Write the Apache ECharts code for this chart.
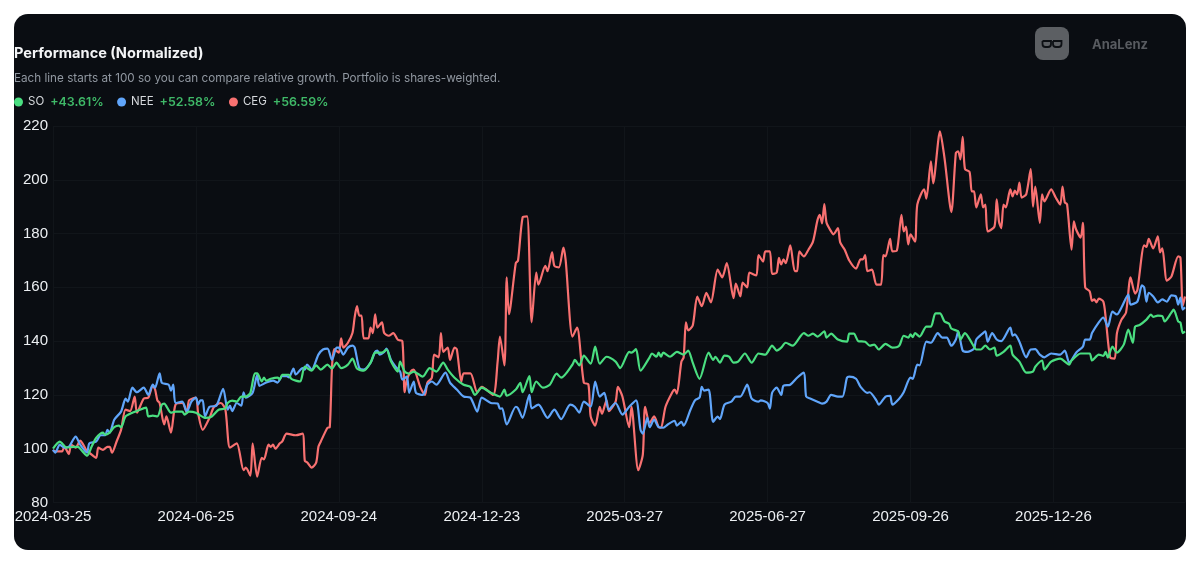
<!DOCTYPE html>
<html>
<head>
<meta charset="utf-8">
<style>html,body{margin:0;padding:0;background:#fff}#c{width:1200px;height:564px}</style>
<script src="https://cdn.jsdelivr.net/npm/echarts@6/dist/echarts.min.js"></script>
</head>
<body>
<div id="c"></div>
<script>
const tickLabels = ['2024-03-25','2024-06-25','2024-09-24','2024-12-23','2025-03-27','2025-06-27','2025-09-26','2025-12-26'];
const names = ['SO','NEE','CEG'];
const returnsText = ['+43.61%','+52.58%','+56.59%'];
const colors = ['#4ade80','#60a5fa','#f87171'];

// [trading day since start, normalized value]
const so = [[0,100],[3,102.6],[4,102],[6,100.4],[9,100.7],[11,100.7],[13,99],[15,97.4],[17,100.7],[19,104],[22,106],[23,105.2],[25,106],[27,108],[29,108.6],[30,108],[32,112],[35,113.4],[37,114],[41,115.3],[42,112],[44,112.3],[46,112],[48,116.4],[49,116.8],[52,113.4],[54,113.8],[57,113.8],[58,112.7],[60,113.8],[63,113.4],[67,111.5],[70,112],[73,114.5],[76,115],[77,117],[79,117.9],[81,117.5],[83,119.4],[85,119.4],[87,120.8],[89,128],[90,128],[92,125],[93,126.4],[94,125.3],[96,126],[99,126.4],[100,125.7],[101,127.5],[104,127.5],[105,126],[107,125.3],[109,125],[111,130.5],[114,129],[116,131],[118,129.4],[121,131.3],[123,129.8],[125,132],[127,130],[130,131.3],[132,133.5],[134,129.8],[137,129],[140,132],[142,135.7],[145,135.7],[147,136.9],[149,132.4],[152,128.7],[153,132.4],[155,128.7],[157,127.9],[159,128.7],[163,126.8],[166,130],[169,128.7],[172,132],[174,129.4],[177,126.4],[181,123.8],[184,123],[186,120],[189,122.7],[193,120.8],[197,119.4],[199,122],[200,119.7],[204,122],[206,124.5],[207,121],[210,127],[211,121],[213,125],[216,122.7],[219,123.8],[222,127.9],[224,126.4],[229,131.3],[230,133],[232,131],[234,134.6],[237,131.6],[239,138],[241,131.6],[244,134.2],[248,132.4],[250,130],[254,136],[255,135.7],[257,137],[259,129],[263,134],[264,135.4],[266,134.2],[267,135.7],[268,134.2],[269,135.7],[272,134.2],[275,136],[278,135],[280,136.5],[282,132],[285,126],[289,135.7],[291,133],[292,134.2],[294,132],[296,134.6],[298,134.2],[300,132],[302,132.4],[305,135.4],[308,132],[311,135.4],[314,135],[317,138.3],[319,136.5],[321,137.6],[323,139.4],[326,138.3],[331,143],[333,142],[335,142.8],[337,141.7],[340,143.6],[341,141.3],[343,142.8],[346,140.6],[350,139.8],[351,142.8],[353,142.8],[355,140],[358,139.8],[360,138.3],[362,138.7],[364,136.9],[367,139],[370,137.6],[373,138.3],[375,142],[377,141.3],[378,142.5],[379,141.5],[380,143],[382,141.7],[385,145.4],[387,145.4],[389,150.3],[391,150.3],[393,147.3],[395,146.5],[396,144.7],[399,143.6],[400,140.6],[402,143],[405,139.4],[407,136.9],[409,136.9],[411,138.3],[413,136.9],[415,137.6],[416,134.6],[419,136],[422,138.3],[423,135],[426,132.4],[429,128.3],[432,128.7],[433,130.5],[436,132.8],[437,129.4],[440,132.4],[444,133.5],[448,131.3],[449,132.8],[453,135.4],[457,135.4],[458,132.8],[461,135],[463,134.5],[464,136],[465,133.9],[467,138],[469,135.7],[472,138.7],[474,144.3],[476,139.4],[477,145.4],[479,146],[482,148],[484,149.9],[485,149],[487,149.5],[489,149.3],[490,147.3],[493,150.6],[494,151.7],[496,147.3],[497,146.9],[498,143],[499,143.61]];

const nee = [[0,99.6],[1,98.5],[3,101.5],[5,100.4],[7,100.7],[10,104.5],[12,101.5],[15,98.5],[16,102],[19,102.6],[21,105],[23,105],[24,107],[25,106],[27,110.8],[30,113.8],[32,118.6],[33,117.5],[35,122.7],[37,121],[40,122.7],[42,120],[44,123.8],[45,122.7],[47,128],[48,124.5],[51,123.8],[52,121.6],[53,123.8],[54,117],[57,117.5],[59,113.8],[61,117.5],[63,119],[64,116.4],[65,118],[66,118],[67,112],[69,115.6],[72,116],[75,122.3],[77,114.5],[78,116],[79,114],[81,117],[83,116],[84,121],[85,119],[88,120.8],[90,127.5],[91,123.4],[94,124.6],[97,125.3],[99,124.6],[101,127],[103,127],[104,126.5],[106,129.8],[107,127.6],[110,130],[111,129.4],[112,131.3],[114,129.4],[117,135],[119,136.9],[121,137.2],[123,133],[125,137.6],[126,137.6],[128,135],[130,137.6],[132,138.3],[133,137.6],[135,130],[137,129.4],[140,132],[142,136],[143,136.5],[144,135],[146,136],[147,137.2],[149,133],[151,130.5],[153,128.7],[154,125.7],[156,126.8],[157,120.8],[159,125],[160,120.8],[163,120],[165,123.8],[167,125],[169,123.8],[173,128.3],[175,124.6],[178,122],[181,119.4],[184,119],[187,113.8],[189,119],[193,117],[196,116.8],[197,114.9],[198,115],[200,109],[204,115.6],[205,115],[207,111.5],[210,120],[211,115],[214,116.4],[218,111.5],[221,114.5],[224,111],[228,116.4],[230,115.6],[232,113.4],[234,117.5],[237,115.6],[239,125],[241,119.4],[243,120.8],[245,114.5],[248,117],[251,112.7],[254,115.6],[257,118],[259,107],[260,105.6],[262,111.5],[263,108],[265,110.8],[267,108],[269,107.8],[271,109],[274,110.4],[275,108.6],[277,110],[278,108.6],[281,114.5],[283,118],[285,119],[286,123],[287,121.6],[289,122],[291,110],[293,111.9],[294,111],[296,116.4],[299,117.5],[301,119.4],[303,119.4],[306,123.8],[308,118.6],[311,117.5],[312,118],[315,117],[316,114.9],[317,120.8],[319,122.7],[321,120],[322,123.4],[325,123.8],[328,126.4],[331,128.3],[332,119.4],[334,118.6],[337,117.5],[339,116.8],[341,117.5],[343,120],[346,119.4],[348,119.4],[350,126.4],[351,126.8],[354,126],[356,123],[359,120.8],[360,121],[363,117.9],[364,116.4],[367,119.4],[369,119.7],[370,116.4],[373,118.6],[375,121],[378,126.4],[379,126],[381,131.3],[382,131],[385,139.8],[387,139.4],[390,143],[392,141.3],[394,141.3],[396,138.3],[398,140.6],[399,143.6],[401,136.5],[403,136],[406,137.2],[407,140.6],[410,143],[411,143.6],[412,139.8],[414,143],[416,140.6],[418,140],[422,145],[423,142],[424,142.5],[426,139.8],[429,134],[431,136.9],[433,137],[435,135],[437,134],[440,135.4],[444,135],[446,136.5],[448,132],[451,135.7],[454,138],[455,140.6],[457,140.6],[458,143],[461,147],[463,148.8],[465,145.4],[467,151],[469,149.9],[471,152.5],[474,157.3],[475,153.6],[478,154.7],[480,160.7],[481,160],[482,154.7],[483,158],[485,156.6],[487,154.4],[489,155.5],[491,154.7],[493,157],[495,156.6],[496,153.6],[497,156.2],[498,151.7],[499,152.58]];

const ceg = [[0,99.5],[1,99],[4,99],[5,100.7],[7,98],[8,101.5],[10,100.4],[12,103],[13,102],[15,99],[16,98.5],[19,96.6],[20,100.4],[22,99.6],[24,100.7],[25,100.7],[26,98.5],[28,102.6],[30,107],[32,114.5],[34,114],[36,119.4],[37,113.4],[40,118.6],[42,119],[44,123.5],[45,122],[46,118],[47,117],[49,109],[50,112],[52,106],[54,116.4],[57,117],[59,113.4],[60,118],[63,119],[64,113],[66,107],[69,111.5],[71,115.6],[74,117],[76,114.5],[78,100.4],[81,102],[84,92],[85,93],[87,90],[88,102],[90,89.6],[92,96.6],[93,96],[95,101.5],[96,100.7],[97,101.5],[98,100],[100,102],[101,102.6],[103,105.6],[107,105],[110,105.6],[111,95.5],[112,95],[114,93],[116,94.8],[117,100.7],[118,102.6],[121,107.8],[122,108],[123,130.5],[124,137],[126,135.7],[127,141],[128,137.6],[130,139.4],[132,143],[133,149],[134,153],[135,149.5],[136,149.5],[137,141],[139,141],[140,145],[141,143],[142,150],[143,145],[145,147],[146,143],[148,142],[150,143],[152,140.5],[154,140],[155,121],[156,125.7],[158,129],[159,129.4],[162,122.7],[164,120],[165,124.5],[167,126.4],[168,135],[170,134],[171,143],[172,136],[174,137.6],[175,133],[177,137.6],[178,137],[180,125],[181,128],[184,128],[187,121],[189,123],[194,120],[196,132.4],[197,141.7],[199,131],[200,163.7],[201,150],[204,169],[205,170],[207,186],[209,186.4],[211,147],[213,165.5],[214,161],[217,168],[218,166],[220,173],[221,168],[223,167.4],[225,174.8],[226,170],[229,141.7],[231,145],[234,124.5],[236,124],[237,112],[239,108.6],[241,115.6],[242,113],[244,118],[245,114],[248,117.5],[249,123],[251,119.4],[254,108],[255,115.6],[258,92],[260,97.8],[261,115.6],[263,109.6],[265,112],[267,108],[268,107.8],[270,115.6],[273,121],[274,122],[275,120.5],[277,132.4],[278,134],[279,147],[280,144],[282,145.8],[284,156.6],[286,153],[288,158],[290,154.4],[293,166.6],[295,163.7],[297,169],[300,156],[301,161.4],[303,156.6],[304,161.8],[306,160],[307,165.5],[310,164.4],[311,172],[313,169.6],[314,173.4],[316,173.4],[317,165],[319,165.5],[320,171],[321,168.5],[322,170.4],[323,169],[325,175.6],[327,166],[328,166],[329,173.4],[331,171.5],[333,174],[335,177],[337,185],[338,187],[339,183.8],[340,191],[341,184],[343,180.8],[344,179.7],[346,182],[347,176.7],[349,174],[351,170],[354,167],[356,170.4],[357,170.4],[358,172],[359,166],[361,166.6],[363,161],[365,161],[366,172],[367,171.5],[369,178],[370,173.4],[372,173.7],[374,187],[375,180.8],[376,182.6],[377,176],[378,179.7],[380,177],[381,190.8],[384,196.4],[385,193],[387,206.9],[388,198.7],[391,218],[393,208],[396,188],[398,210],[399,210.6],[400,207.6],[401,216],[402,204],[404,203],[405,195.7],[406,195.7],[407,189.7],[409,194.6],[410,189.7],[411,190.8],[412,180.8],[415,182.6],[416,192.7],[417,184.5],[418,182],[419,190.8],[420,189.7],[422,196.4],[423,193.8],[424,196],[425,194.6],[426,199],[427,193.4],[429,194.6],[431,204],[432,190],[433,197.5],[435,184],[436,194.6],[437,192],[440,196.4],[442,193.4],[444,190.8],[445,197.5],[446,191.6],[447,191],[449,174],[450,184.5],[451,181.5],[453,178.5],[454,184],[455,160],[457,158.5],[458,155],[459,155.5],[460,154.4],[461,155.8],[463,154.7],[464,149],[466,134],[468,133.5],[469,143],[471,148],[473,150.6],[475,163.7],[477,157.7],[478,159],[481,175.6],[482,175],[483,178],[485,174.5],[487,179],[488,173],[489,174.5],[491,162.5],[493,164],[496,171.5],[497,171],[498,153],[499,156.59]];

const seriesData = [so, nee, ceg];
const returnByName = Object.fromEntries(names.map((n, i) => [n, returnsText[i]]));
const sans = 'Inter, "Liberation Sans", sans-serif';

const chart = echarts.init(document.getElementById('c'), null, {renderer: 'canvas'});
chart.setOption({
  animation: false,
  backgroundColor: '#ffffff',
  title: [
    {text: 'Performance (Normalized)', left: 14, top: 46, padding: 0,
      textStyle: {color: '#f3f4f6', fontFamily: sans, fontSize: 14.6, fontWeight: 700}},
    {text: 'Each line starts at 100 so you can compare relative growth. Portfolio is shares-weighted.', left: 14, top: 72, padding: 0,
      textStyle: {color: '#9097a0', fontFamily: sans, fontSize: 11.7, fontWeight: 400}}
  ],
  legend: {
    left: 14, top: 96, padding: 0, itemWidth: 9, itemHeight: 9, itemGap: 13.5, icon: 'circle',
    data: names, selectedMode: false,
    formatter: n => `{n|${n}}{v|${returnByName[n]}}`,
    textStyle: {rich: {
      n: {color: '#d5d8dc', fontFamily: sans, fontSize: 11.5, padding: [0, 6, 0, 0]},
      v: {color: '#3fb968', fontFamily: sans, fontSize: 12.4, fontWeight: 600}
    }}
  },
  grid: {left: 53, right: 15, top: 126, bottom: 61.5, containLabel: false},
  xAxis: {
    type: 'value', min: 0, max: 499, interval: 63,
    axisLine: {show: false}, axisTick: {show: false},
    axisLabel: {
      color: '#eceff2', fontFamily: '"Liberation Sans", sans-serif', fontSize: 15, margin: 7,
      showMaxLabel: false, hideOverlap: false,
      formatter: v => tickLabels[Math.round(v / 63)] || ''
    },
    splitLine: {show: true, lineStyle: {color: '#11151a', width: 1}}
  },
  yAxis: {
    type: 'value', min: 80, max: 220, interval: 20,
    axisLine: {show: false}, axisTick: {show: false},
    axisLabel: {color: '#eceff2', fontFamily: '"Liberation Sans", sans-serif', fontSize: 15, margin: 5},
    splitLine: {show: true, lineStyle: {color: '#11151a', width: 1}}
  },
  series: names.map((n, i) => ({
    name: n, type: 'line', data: seriesData[i], showSymbol: false, smooth: 0.25,
    lineStyle: {color: colors[i], width: 2.2}, itemStyle: {color: colors[i]}, z: 3 + (i === 0 ? 2 : i === 1 ? 1 : 0),
    emphasis: {disabled: true}
  })),
  graphic: [
    {type: 'rect', z: -10, silent: true, shape: {x: 14, y: 14, width: 1172, height: 536, r: 14}, style: {fill: '#0a0d12'}},
    {type: 'rect', z: -5, silent: true, shape: {x: 1035, y: 27, width: 34, height: 33, r: 8}, style: {fill: '#5c5f63'}},
    {type: 'rect', z: -4, silent: true, shape: {x: 1042.5, y: 41, width: 8.5, height: 6, r: [0, 0, 3, 3]}, style: {fill: 'none', stroke: '#0d1014', lineWidth: 1.8}},
    {type: 'rect', z: -4, silent: true, shape: {x: 1053, y: 41, width: 8.5, height: 6, r: [0, 0, 3, 3]}, style: {fill: 'none', stroke: '#0d1014', lineWidth: 1.8}},
    {type: 'text', z: -4, silent: true, x: 1092, y: 39, style: {text: 'AnaLenz', fill: '#585b60', font: '700 13px Inter, sans-serif'}}
  ]
});
</script>
</body>
</html>
